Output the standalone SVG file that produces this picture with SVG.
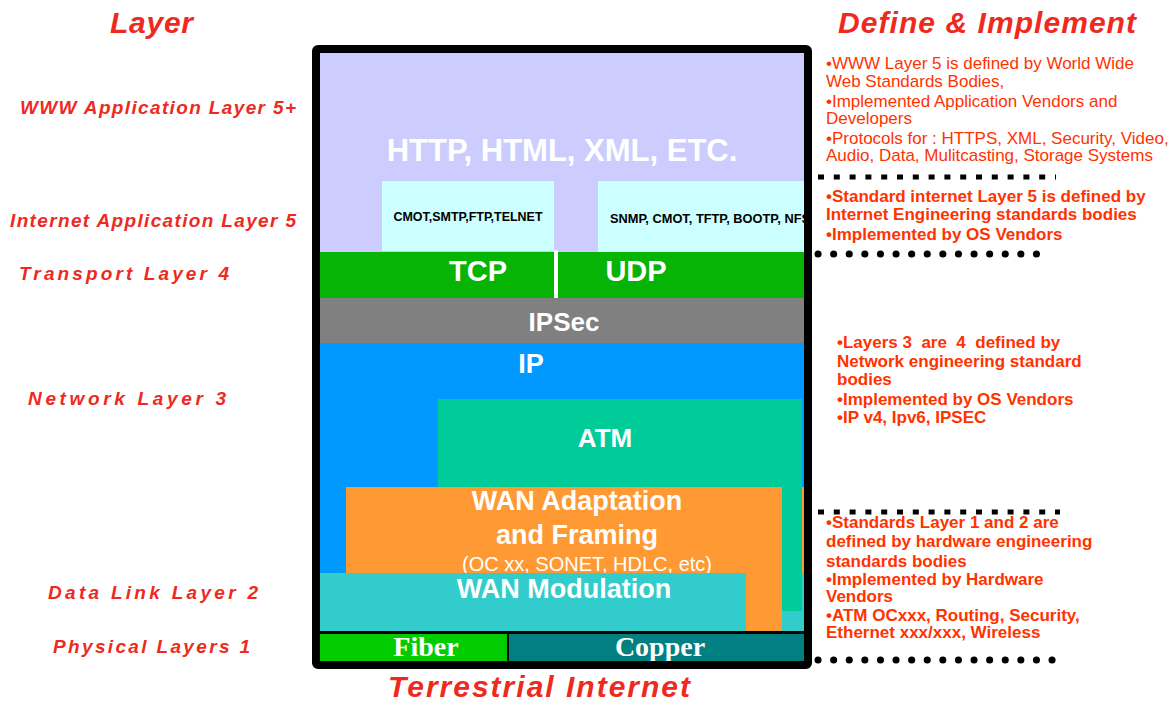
<svg xmlns="http://www.w3.org/2000/svg" width="1173" height="704" viewBox="0 0 1173 704">
<style>
.lbl{font-family:"Liberation Sans",Arial,sans-serif;font-weight:bold;font-style:italic;fill:#EE2A1E;font-size:19px;}
.ttl{font-family:"Liberation Sans",Arial,sans-serif;font-weight:bold;font-style:italic;fill:#EE2A1E;font-size:30px;}
.big{font-family:"Liberation Sans",Arial,sans-serif;font-weight:bold;fill:#FFFFFF;text-anchor:middle;}
.norm{font-family:"Liberation Sans",Arial,sans-serif;font-weight:normal;fill:#FFFFFF;text-anchor:middle;}
.small{font-family:"Liberation Sans",Arial,sans-serif;font-weight:bold;fill:#000000;font-size:12px;}
.ser{font-family:"Liberation Serif","Times New Roman",serif;font-weight:bold;fill:#FFFFFF;text-anchor:middle;font-size:28px;}
.rn{font-family:"Liberation Sans",Arial,sans-serif;fill:#FF3300;font-size:17px;}
.rb{font-family:"Liberation Sans",Arial,sans-serif;font-weight:bold;fill:#FF3300;font-size:17px;}
.dot{stroke:#000;fill:none;}
</style>
<rect x="0" y="0" width="1173" height="704" fill="#FFFFFF"/>

<g id="titles">
<text class="ttl" x="110" y="33" textLength="83" lengthAdjust="spacing">Layer</text>
<text class="ttl" x="838" y="33" textLength="298" lengthAdjust="spacing">Define &amp; Implement</text>
<text class="ttl" x="388" y="697" font-size="28" textLength="302" lengthAdjust="spacing">Terrestrial Internet</text>
</g>

<g id="layer-labels">
<text class="lbl" x="20" y="114" textLength="276" lengthAdjust="spacing">WWW Application Layer 5+</text>
<text class="lbl" x="10" y="227" textLength="286" lengthAdjust="spacing">Internet Application Layer 5</text>
<text class="lbl" x="19" y="280" textLength="210" lengthAdjust="spacing">Transport Layer 4</text>
<text class="lbl" x="28" y="405" textLength="198" lengthAdjust="spacing">Network Layer 3</text>
<text class="lbl" x="48" y="599" textLength="210" lengthAdjust="spacing">Data Link Layer 2</text>
<text class="lbl" x="53" y="653" textLength="197" lengthAdjust="spacing">Physical Layers 1</text>
</g>

<g id="stack">
<g id="www-layer">
<rect x="320" y="53" width="484" height="200" fill="#CCCCFF"/>
<text class="big" x="562" y="161" font-size="31">HTTP, HTML, XML, ETC.</text>
</g>
<g id="cmot-box">
<rect x="382" y="181" width="172" height="70" fill="#CCFFFF"/>
<text class="small" x="468" y="221" text-anchor="middle" textLength="149" lengthAdjust="spacingAndGlyphs">CMOT,SMTP,FTP,TELNET</text>
</g>
<g id="snmp-box">
<rect x="598" y="181" width="206" height="72" fill="#CCFFFF"/>
<text class="small" x="610" y="223" font-size="12.6" textLength="200" lengthAdjust="spacingAndGlyphs">SNMP, CMOT, TFTP, BOOTP, NFS</text>
</g>
<g id="transport">
<rect x="320" y="252" width="484" height="46" fill="#05B405"/>
<text class="big" x="478" y="281" font-size="29">TCP</text>
<text class="big" x="636" y="281" font-size="29">UDP</text>
<line x1="556" y1="252" x2="556" y2="297" stroke="#FFFFFF" stroke-width="4" stroke-linecap="round"/>
</g>
<g id="ipsec">
<rect x="320" y="298" width="484" height="45" fill="#808080"/>
<text class="big" x="564" y="331" font-size="26">IPSec</text>
</g>
<g id="ip">
<rect x="320" y="343" width="484" height="289" fill="#0099FF"/>
<text class="big" x="531" y="373" font-size="27">IP</text>
</g>
<rect x="320" y="573" width="484" height="59" fill="#33CCCC"/>
<g id="atm">
<rect x="438" y="399" width="364" height="212" fill="#00CC99"/>
<text class="big" x="605" y="447" font-size="26">ATM</text>
</g>
<g id="wan-adaptation">
<rect x="346" y="487" width="436" height="145" fill="#FF9933"/>
<rect x="802" y="487" width="2" height="86" fill="#FF9933"/>
<text class="big" x="577" y="510" font-size="27">WAN Adaptation</text>
<text class="big" x="577" y="544" font-size="27">and Framing</text>
<text class="norm" x="587" y="571" font-size="20">(OC xx, SONET, HDLC, etc)</text>
</g>
<g id="wan-modulation">
<rect x="320" y="573" width="426" height="59" fill="#33CCCC"/>
<text class="big" x="564" y="598" font-size="27">WAN Modulation</text>
</g>
<g id="physical">
<rect x="320" y="631" width="484" height="30" fill="#000000"/>
<rect x="320" y="634" width="187" height="27" fill="#00CC00"/>
<rect x="509" y="634" width="295" height="27" fill="#008080"/>
<text class="ser" x="426" y="656">Fiber</text>
<text class="ser" x="660" y="656">Copper</text>
</g>
<rect id="frame" x="316" y="49" width="492" height="616" fill="none" stroke="#000000" stroke-width="8" rx="2"/>
</g>

<g id="notes">
<g id="note-www">
<text class="rn" x="826" y="69">•WWW Layer 5 is defined by World Wide</text>
<text class="rn" x="826" y="87">Web Standards Bodies,</text>
<text class="rn" x="826" y="107">•Implemented Application Vendors and</text>
<text class="rn" x="826" y="124">Developers</text>
<text class="rn" x="826" y="144">•Protocols for : HTTPS, XML, Security, Video,</text>
<text class="rn" x="826" y="161">Audio, Data, Mulitcasting, Storage Systems</text>
</g>
<g id="note-internet">
<text class="rb" x="826" y="202">•Standard internet Layer 5 is defined by</text>
<text class="rb" x="826" y="220">Internet Engineering standards bodies</text>
<text class="rb" x="826" y="240">•Implemented by OS Vendors</text>
</g>
<g id="note-network">
<text class="rb" x="837" y="348" xml:space="preserve">•Layers 3  are  4  defined by</text>
<text class="rb" x="837" y="367">Network engineering standard</text>
<text class="rb" x="837" y="385">bodies</text>
<text class="rb" x="837" y="405">•Implemented by OS Vendors</text>
<text class="rb" x="837" y="423">•IP v4, Ipv6, IPSEC</text>
</g>
<g id="note-hardware">
<text class="rb" x="826" y="528">•Standards Layer 1 and 2 are</text>
<text class="rb" x="826" y="547">defined by hardware engineering</text>
<text class="rb" x="826" y="567">standards bodies</text>
<text class="rb" x="826" y="585">•Implemented by Hardware</text>
<text class="rb" x="826" y="602">Vendors</text>
<text class="rb" x="826" y="621">•ATM OCxxx, Routing, Security,</text>
<text class="rb" x="826" y="638">Ethernet xxx/xxx, Wireless</text>
</g>
</g>

<g id="connectors">
<line class="dot" x1="818" y1="177" x2="1056" y2="177" stroke-width="5" stroke-dasharray="6 9.8"/>
<line class="dot" x1="818" y1="254" x2="1050" y2="254" stroke-width="7" stroke-linecap="round" stroke-dasharray="0.1 15.5"/>
<line class="dot" x1="818" y1="512" x2="1060" y2="512" stroke-width="5" stroke-dasharray="6 9.8"/>
<line class="dot" x1="818" y1="660" x2="1056" y2="660" stroke-width="7" stroke-linecap="round" stroke-dasharray="0.1 15.5"/>
</g>
</svg>
